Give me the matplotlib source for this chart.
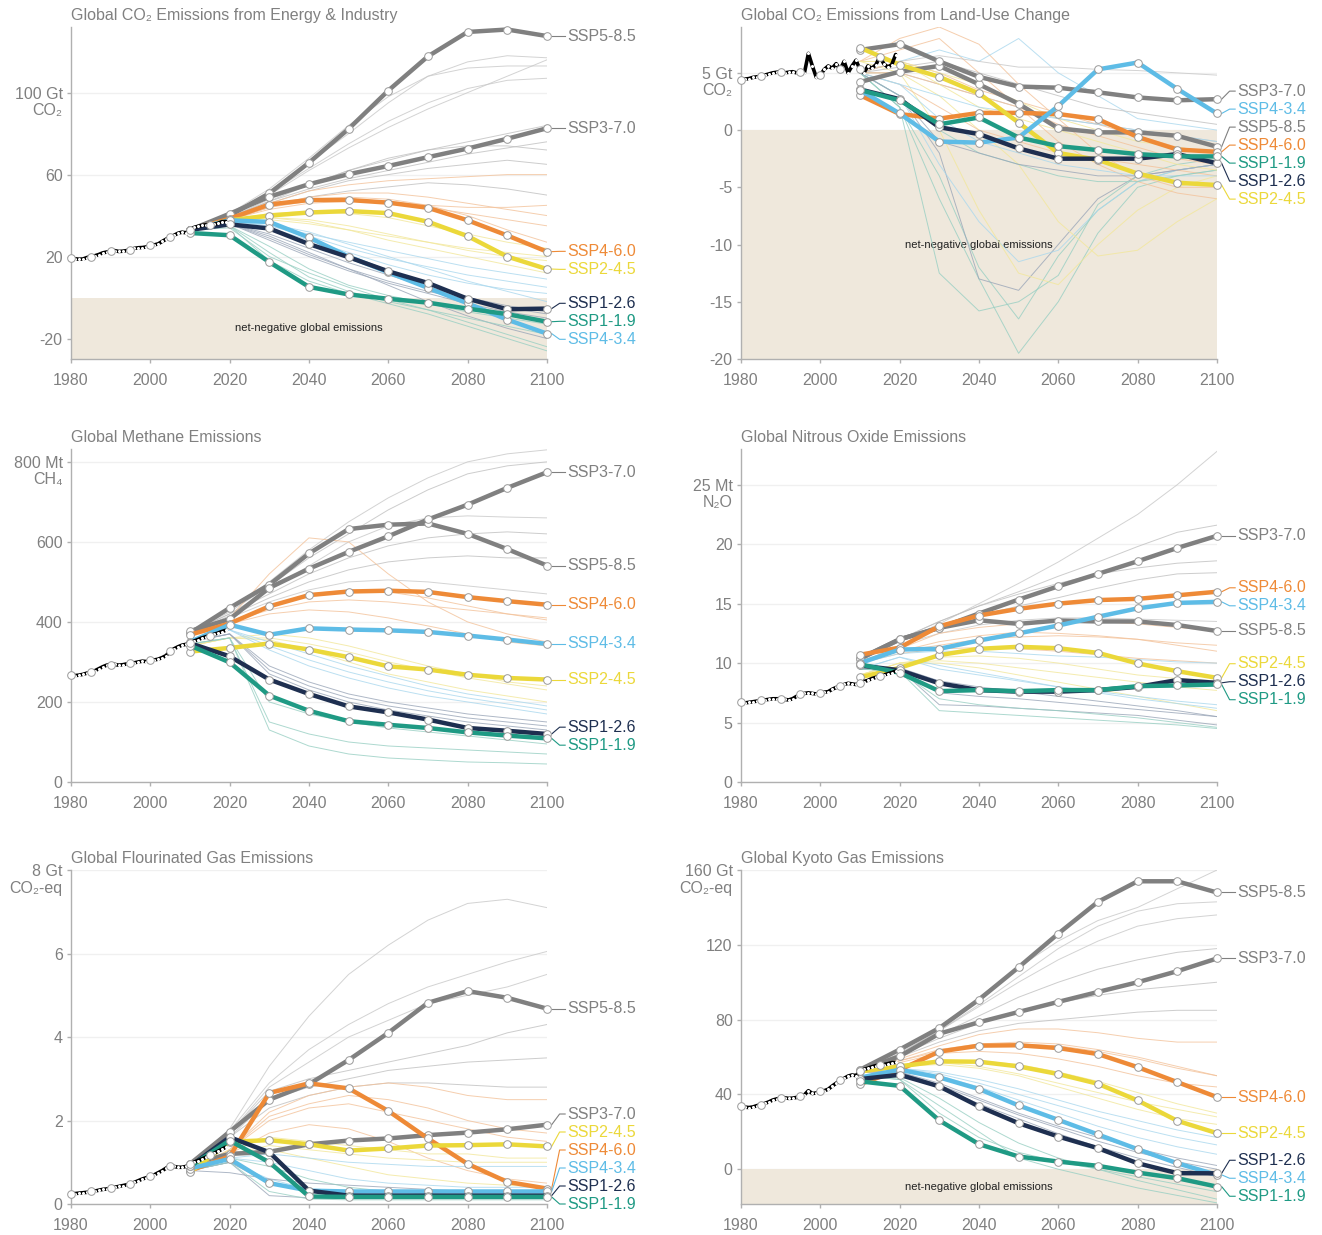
import numpy as np
import matplotlib
matplotlib.use("Agg")
import matplotlib.pyplot as plt

plt.rcParams['font.family'] = ['Liberation Sans', 'DejaVu Sans']

# ---- data -------------------------------------------------------------
SCEN_YEARS = [2010, 2020, 2030, 2040, 2050, 2060, 2070, 2080, 2090, 2100]
HIST_YEARS = list(range(1980, 2020))
SCENARIOS = ['SSP5-8.5', 'SSP3-7.0', 'SSP4-6.0', 'SSP2-4.5', 'SSP4-3.4', 'SSP1-2.6', 'SSP1-1.9']

# CO2 from energy & industry (Gt CO2)
co2_ffi_hist = [19.4, 18.9, 18.7, 18.8, 19.5, 20.0, 20.4, 21.0, 21.8, 22.2,
                22.6, 22.9, 22.5, 22.6, 22.9, 23.4, 24.0, 24.3, 24.4, 24.7,
                25.5, 25.7, 26.2, 27.4, 28.5, 29.5, 30.4, 31.4, 31.9, 31.6,
                33.2, 34.2, 34.7, 35.2, 35.5, 35.6, 35.7, 36.2, 37.0, 37.1]
co2_ffi = {
    'SSP5-8.5': [33, 40, 50.8, 65.8, 82.3, 101, 117.7, 129.6, 130.8, 127.6],
    'SSP3-7.0': [33, 40.9, 49.2, 55.3, 60.2, 64.2, 68.5, 72.7, 77.5, 82.6],
    'SSP4-6.0': [33, 38.5, 45.4, 47.6, 47.6, 46.3, 43.8, 37.7, 30.3, 22.4],
    'SSP2-4.5': [33, 37.7, 40.0, 41.5, 42.2, 41.2, 37.0, 30.0, 20.0, 13.9],
    'SSP4-3.4': [33, 37.7, 36.9, 29.3, 20.0, 12.3, 4.7, -2.8, -10.8, -17.6],
    'SSP1-2.6': [33, 35.7, 33.7, 26.1, 19.7, 12.8, 7.1, -0.6, -5.7, -5.4],
    'SSP1-1.9': [31.5, 30.4, 17.3, 5.2, 1.5, -0.6, -2.5, -5.4, -8.1, -11.8],
}
co2_ffi_thin = [
    ('SSP5-8.5', [33, 40, 52, 66, 80, 95, 108, 115, 118, 117]),
    ('SSP5-8.5', [33, 40, 51, 63, 75, 86, 95, 102, 106, 107]),
    ('SSP5-8.5', [33, 40, 50, 62, 73, 83, 92, 100, 108, 116]),
    ('SSP5-8.5', [33, 41, 53, 68, 84, 98, 108, 112, 113, 113]),
    ('SSP3-7.0', [33, 39, 48, 55, 62, 67, 72, 76, 80, 84]),
    ('SSP3-7.0', [33, 39, 47, 53, 58, 62, 66, 70, 73, 76]),
    ('SSP3-7.0', [33, 39, 46, 52, 57, 60, 63, 65, 67, 65]),
    ('SSP3-7.0', [33, 38, 44, 49, 52, 54, 56, 55, 53, 50]),
    ('SSP3-7.0', [33, 39, 47, 55, 62, 68, 72, 74, 74, 72]),
    ('SSP4-6.0', [33, 39, 46, 52, 55, 57, 58, 59, 60, 60]),
    ('SSP4-6.0', [33, 39, 45, 49, 51, 51, 49, 46, 43, 40]),
    ('SSP4-6.0', [33, 38, 43, 46, 47, 46, 44, 41, 38, 35]),
    ('SSP4-6.0', [33, 38, 44, 48, 49, 48, 45, 40, 33, 27]),
    ('SSP4-6.0', [33, 38, 44, 47, 48, 47, 45, 44, 44, 45]),
    ('SSP2-4.5', [33, 38, 41, 42, 41, 39, 35, 31, 27, 24]),
    ('SSP2-4.5', [33, 37, 39, 38, 35, 31, 27, 23, 20, 18]),
    ('SSP2-4.5', [33, 37, 39, 37, 33, 28, 24, 20, 16, 12]),
    ('SSP2-4.5', [33, 37, 38, 36, 33, 30, 27, 24, 22, 20]),
    ('SSP4-3.4', [33, 37, 35, 31, 27, 23, 19, 15, 12, 9]),
    ('SSP4-3.4', [33, 37, 34, 28, 22, 16, 11, 7, 4, 2]),
    ('SSP4-3.4', [33, 37, 36, 32, 26, 20, 14, 8, 3, -2]),
    ('SSP4-3.4', [33, 37, 35, 30, 24, 19, 15, 11, 8, 5]),
    ('SSP1-2.6', [33, 36, 31, 24, 17, 11, 5, 0, -4, -7]),
    ('SSP1-2.6', [33, 36, 28, 20, 13, 7, 2, -3, -7, -10]),
    ('SSP1-2.6', [33, 36, 30, 22, 14, 6, -2, -9, -15, -20]),
    ('SSP1-2.6', [33, 36, 29, 21, 14, 8, 3, -1, -5, -8]),
    ('SSP1-1.9', [33, 35, 22, 10, 3, -2, -6, -10, -14, -18]),
    ('SSP1-1.9', [33, 35, 18, 8, 2, -3, -8, -14, -20, -26]),
    ('SSP1-1.9', [33, 34, 20, 12, 5, -1, -6, -12, -18, -24]),
    ('SSP1-1.9', [33, 35, 25, 14, 6, 1, -3, -7, -10, -13]),
]

# CO2 from land-use change (Gt CO2)
co2_luc_hist = [4.4, 4.45, 4.5, 4.6, 4.65, 4.7, 4.8, 4.9, 5.0, 5.05,
                5.1, 5.0, 5.05, 5.1, 5.0, 5.05, 5.0, 6.7, 5.6, 4.6,
                4.8, 5.3, 5.6, 5.4, 5.8, 5.3, 6.0, 5.0, 5.6, 6.1,
                5.3, 5.0, 5.6, 5.4, 5.7, 6.4, 5.8, 5.5, 5.7, 6.6]
co2_luc = {
    'SSP5-8.5': [4.2, 5.1, 5.6, 4.0, 2.3, 0.15, -0.2, -0.2, -0.5, -1.45],
    'SSP3-7.0': [7.0, 7.5, 6.0, 4.65, 3.8, 3.7, 3.3, 2.85, 2.6, 2.7],
    'SSP4-6.0': [3.05, 1.4, 1.0, 1.5, 1.5, 1.4, 0.95, -0.6, -1.7, -1.9],
    'SSP2-4.5': [7.2, 5.7, 4.65, 3.2, 0.65, -2.0, -2.6, -3.8, -4.6, -4.8],
    'SSP4-3.4': [3.5, 1.45, -1.0, -1.1, -0.65, 2.1, 5.3, 5.9, 3.6, 1.45],
    'SSP1-2.6': [3.55, 2.7, 0.25, -0.35, -1.6, -2.5, -2.5, -2.5, -2.1, -2.9],
    'SSP1-1.9': [3.5, 2.6, 0.5, 1.1, -0.65, -1.4, -1.75, -2.1, -2.3, -2.3],
}
co2_luc_thin = [
    ('SSP1-1.9', [5, 2, -6, -13, -19.5, -15, -9, -5, -4, -3.5]),
    ('SSP1-1.9', [5, 2, -4, -12, -16.5, -11, -7, -4.5, -3.5, -3]),
    ('SSP1-2.6', [5, 3, -2, -13, -14, -10, -6, -4, -3.5, -3]),
    ('SSP4-3.4', [5, 3, -3, -8, -11.5, -10.5, -7, -4.5, -3.5, -3]),
    ('SSP1-1.9', [5, 2, -12.5, -15.8, -15, -12.7, -6.5, -4, -3, -2.5]),
    ('SSP2-4.5', [6, 5, 0, -7, -12.5, -13.5, -10, -7, -5, -4]),
    ('SSP4-6.0', [6, 7, 8, 5, 2, -1, -3, -4.5, -5.5, -6]),
    ('SSP4-6.0', [6, 8, 9, 7.5, 4, 1, -2, -4, -5, -5]),
    ('SSP4-3.4', [5, 6, 7, 6, 8, 5, 3, 1, 0.5, 0]),
    ('SSP5-8.5', [5, 6, 6.5, 6, 5.5, 5.5, 5.3, 5.2, 5.0, 4.8]),
    ('SSP3-7.0', [5, 5.5, 6, 5, 4, 3, 2, 1.5, 1, 0.5]),
    ('SSP2-4.5', [5, 5, 3, 0, -3, -8, -11, -10.5, -8, -6]),
    ('SSP4-6.0', [5, 4, 2, 0, -1, -2, -2.5, -3, -3.5, -4]),
    ('SSP4-3.4', [5, 4, 1, -1, -2, -3, -3.5, -4, -4, -4]),
    ('SSP1-1.9', [5, 3, 0, -2, -3, -4, -4.5, -4.5, -4, -3.5]),
    ('SSP3-7.0', [5, 5, 4, 3, 2, 1, 0.5, 0, -0.5, -1]),
    ('SSP4-6.0', [5, 6, 5, 3.5, 2.5, 1.5, 0.5, -0.5, -1.5, -2]),
    ('SSP2-4.5', [6, 6, 5, 4, 2.5, 1, 0, -1, -1.5, -2]),
    ('SSP4-6.0', [5, 5, 4, 3, 2, 0.5, -0.5, -1.5, -2.5, -3]),
    ('SSP2-4.5', [6, 6, 4, 2, 1, 0, -1, -2, -3, -3.5]),
    ('SSP4-3.4', [5, 4, 3, 2, 1.5, 1, 0.5, 0, -0.5, -1]),
    ('SSP1-2.6', [5, 3, -1, -2, -3, -3.5, -4, -4, -3.5, -3]),
]

# methane (Mt CH4)
ch4_hist = [268, 266, 267, 269, 272, 274, 278, 283, 288, 292,
            293, 294, 292, 293, 295, 297, 298, 300, 302, 301,
            304, 305, 307, 311, 316, 328, 333, 338, 342, 344,
            347, 352, 356, 360, 363, 366, 369, 372, 376, 379]
ch4 = {
    'SSP5-8.5': [372, 435, 493, 571, 632, 643, 646, 620, 582, 541],
    'SSP3-7.0': [377, 407, 485, 533, 575, 614, 656, 693, 735, 774],
    'SSP4-6.0': [368, 396, 439, 467, 476, 478, 475, 462, 452, 443],
    'SSP2-4.5': [326, 335, 346, 331, 312, 289, 281, 268, 260, 256],
    'SSP4-3.4': [350, 393, 368, 384, 381, 379, 375, 366, 356, 345],
    'SSP1-2.6': [347, 314, 256, 220, 189, 174, 156, 135, 128, 120],
    'SSP1-1.9': [341, 299, 216, 178, 152, 143, 135, 124, 116, 109],
}
ch4_thin = [
    ('SSP5-8.5', [375, 430, 500, 580, 650, 710, 760, 800, 820, 830]),
    ('SSP3-7.0', [375, 425, 490, 560, 620, 680, 730, 770, 790, 800]),
    ('SSP5-8.5', [375, 420, 480, 540, 600, 640, 660, 665, 662, 660]),
    ('SSP3-7.0', [375, 420, 470, 520, 560, 590, 610, 620, 625, 620]),
    ('SSP3-7.0', [375, 415, 460, 500, 530, 550, 560, 565, 560, 560]),
    ('SSP5-8.5', [375, 410, 450, 480, 500, 505, 500, 490, 480, 470]),
    ('SSP4-6.0', [370, 410, 520, 610, 600, 520, 450, 400, 370, 350]),
    ('SSP4-6.0', [370, 400, 440, 470, 480, 475, 460, 440, 420, 405]),
    ('SSP4-6.0', [370, 395, 420, 430, 425, 410, 390, 370, 350, 340]),
    ('SSP4-6.0', [370, 400, 430, 450, 455, 450, 440, 430, 420, 410]),
    ('SSP2-4.5', [340, 360, 370, 360, 340, 315, 290, 270, 250, 240]),
    ('SSP2-4.5', [340, 360, 355, 330, 300, 270, 250, 230, 215, 200]),
    ('SSP2-4.5', [340, 360, 360, 345, 325, 300, 280, 260, 245, 230]),
    ('SSP4-3.4', [350, 380, 350, 320, 290, 265, 240, 220, 205, 190]),
    ('SSP4-3.4', [350, 380, 330, 290, 260, 235, 215, 200, 185, 170]),
    ('SSP4-3.4', [350, 380, 340, 305, 275, 250, 228, 210, 195, 180]),
    ('SSP1-2.6', [350, 370, 290, 250, 220, 200, 185, 170, 160, 150]),
    ('SSP1-2.6', [350, 370, 270, 230, 200, 180, 165, 150, 140, 130]),
    ('SSP1-2.6', [350, 370, 280, 240, 210, 190, 175, 160, 150, 140]),
    ('SSP1-1.9', [345, 360, 200, 170, 150, 135, 125, 115, 105, 95]),
    ('SSP1-1.9', [345, 360, 150, 120, 100, 90, 85, 80, 75, 70]),
    ('SSP1-1.9', [345, 360, 130, 90, 70, 60, 55, 50, 48, 45]),
]

# nitrous oxide (Mt N2O)
n2o_hist = [6.7, 6.65, 6.7, 6.75, 6.8, 6.86, 6.9, 6.95, 7.0, 7.0,
            7.0, 6.95, 6.9, 7.0, 7.2, 7.36, 7.45, 7.5, 7.45, 7.4,
            7.5, 7.55, 7.6, 7.8, 7.95, 8.06, 8.2, 8.3, 8.25, 8.2,
            8.34, 8.45, 8.55, 8.7, 8.8, 8.9, 9.0, 9.1, 9.2, 9.32]
n2o = {
    'SSP5-8.5': [10.4, 12.0, 12.96, 13.6, 13.3, 13.58, 13.5, 13.5, 13.2, 12.7],
    'SSP3-7.0': [10.36, 12.0, 12.96, 14.17, 15.34, 16.46, 17.5, 18.56, 19.68, 20.7],
    'SSP4-6.0': [10.7, 11.3, 13.1, 14.0, 14.56, 15.0, 15.3, 15.4, 15.7, 16.0],
    'SSP2-4.5': [8.8, 9.6, 10.67, 11.2, 11.37, 11.25, 10.86, 9.97, 9.32, 8.76],
    'SSP4-3.4': [10.0, 11.14, 11.2, 11.9, 12.5, 13.16, 13.9, 14.6, 15.06, 15.15],
    'SSP1-2.6': [9.8, 9.4, 8.3, 7.73, 7.6, 7.6, 7.73, 8.0, 8.57, 8.34],
    'SSP1-1.9': [9.9, 9.18, 7.64, 7.73, 7.64, 7.73, 7.73, 8.06, 8.12, 8.2],
}
n2o_thin = [
    ('SSP5-8.5', [10.3, 11.8, 13.3, 15, 16.7, 18.5, 20.5, 22.5, 25, 27.8]),
    ('SSP3-7.0', [10.3, 12, 13.5, 14.8, 16, 17.3, 18.5, 19.8, 21, 21.6]),
    ('SSP3-7.0', [10.3, 12, 13.5, 14.8, 15.8, 16.7, 17.5, 18, 18.4, 18.6]),
    ('SSP3-7.0', [10.2, 11.8, 13, 14, 14.8, 15.5, 16.3, 17, 17.5, 17.6]),
    ('SSP5-8.5', [10, 11.5, 12.5, 13.2, 13.6, 13.8, 13.8, 13.7, 13.6, 13.5]),
    ('SSP4-6.0', [10.2, 11.2, 12.5, 13, 13.3, 13.5, 13.5, 13.3, 13, 12.7]),
    ('SSP4-6.0', [10.2, 11, 11.8, 12.3, 12.6, 12.5, 12.3, 12, 11.5, 11]),
    ('SSP4-6.0', [10, 10.8, 11.2, 11.3, 11.2, 11, 10.7, 10.4, 10.2, 10]),
    ('SSP4-6.0', [10, 11, 11.5, 12, 12.2, 12.3, 12.2, 12, 11.7, 11.5]),
    ('SSP2-4.5', [9, 10, 10.5, 10.6, 10.4, 10, 9.5, 9, 8.7, 8.5]),
    ('SSP2-4.5', [9, 10, 10, 9.6, 9, 8.4, 7.8, 7.2, 6.6, 6]),
    ('SSP2-4.5', [9, 10, 10.2, 10, 9.6, 9.2, 8.8, 8.4, 8, 7.7]),
    ('SSP4-3.4', [10, 10.8, 11, 11, 10.8, 10.6, 10.5, 10.3, 10.1, 10]),
    ('SSP4-3.4', [9.5, 10.5, 9.8, 9.2, 8.6, 8, 7.5, 7, 6.6, 6.2]),
    ('SSP4-3.4', [9.5, 10.5, 9.5, 9, 8.5, 8, 7.6, 7.2, 6.8, 6.5]),
    ('SSP1-2.6', [9.5, 9.6, 8.5, 8, 7.6, 7.2, 6.8, 6.4, 6, 5.5]),
    ('SSP1-2.6', [9.5, 9.5, 6.5, 6.4, 6.2, 6, 5.8, 5.6, 5.2, 4.8]),
    ('SSP1-2.6', [9.5, 9.4, 7.5, 7.2, 7, 6.7, 6.4, 6.1, 5.8, 5.5]),
    ('SSP1-1.9', [9.5, 9.3, 6, 5.8, 5.6, 5.4, 5.2, 5, 4.8, 4.5]),
    ('SSP1-1.9', [9.5, 9.3, 7, 6.5, 6.2, 6, 5.7, 5.4, 5, 4.6]),
]

# fluorinated gases (Gt CO2-eq)
fgas_hist = [0.24, 0.25, 0.26, 0.27, 0.28, 0.30, 0.31, 0.33, 0.35, 0.36,
             0.38, 0.40, 0.42, 0.44, 0.46, 0.49, 0.52, 0.56, 0.60, 0.63,
             0.66, 0.70, 0.75, 0.80, 0.86, 0.92, 0.90, 0.88, 0.88, 0.90,
             0.96, 1.00, 1.04, 1.08, 1.12, 1.17, 1.21, 1.26, 1.31, 1.36]
fgas = {
    'SSP5-8.5': [0.96, 1.73, 2.5, 2.87, 3.45, 4.1, 4.82, 5.1, 4.94, 4.68],
    'SSP3-7.0': [0.96, 1.2, 1.25, 1.43, 1.52, 1.57, 1.65, 1.71, 1.79, 1.9],
    'SSP4-6.0': [0.8, 1.14, 2.66, 2.89, 2.77, 2.23, 1.57, 0.96, 0.53, 0.37],
    'SSP2-4.5': [0.76, 1.49, 1.53, 1.43, 1.28, 1.33, 1.4, 1.41, 1.43, 1.38],
    'SSP4-3.4': [0.85, 1.08, 0.5, 0.32, 0.3, 0.3, 0.3, 0.3, 0.3, 0.3],
    'SSP1-2.6': [0.9, 1.6, 1.24, 0.32, 0.2, 0.2, 0.2, 0.2, 0.2, 0.2],
    'SSP1-1.9': [0.9, 1.52, 1.0, 0.18, 0.17, 0.17, 0.17, 0.17, 0.17, 0.17],
}
fgas_thin = [
    ('SSP5-8.5', [0.9, 1.8, 3.3, 4.5, 5.5, 6.2, 6.8, 7.2, 7.3, 7.1]),
    ('SSP5-8.5', [0.9, 1.75, 2.9, 3.7, 4.3, 4.8, 5.2, 5.5, 5.8, 6.05]),
    ('SSP5-8.5', [0.9, 1.7, 2.8, 3.4, 4.0, 4.4, 4.8, 5.0, 5.2, 5.5]),
    ('SSP3-7.0', [0.9, 1.7, 2.7, 3.0, 3.2, 3.4, 3.6, 3.8, 4.1, 4.3]),
    ('SSP3-7.0', [0.9, 1.6, 2.5, 2.8, 3.0, 3.2, 3.3, 3.4, 3.45, 3.5]),
    ('SSP3-7.0', [0.9, 1.6, 2.3, 2.6, 2.8, 2.9, 2.9, 2.85, 2.8, 2.8]),
    ('SSP4-6.0', [0.8, 1.3, 2.2, 2.6, 2.8, 2.9, 2.8, 2.6, 2.5, 2.5]),
    ('SSP4-6.0', [0.8, 1.3, 2.0, 2.3, 2.4, 2.2, 2.0, 1.8, 1.6, 1.5]),
    ('SSP4-6.0', [0.8, 1.2, 1.7, 1.9, 1.8, 1.5, 1.1, 0.8, 0.6, 0.5]),
    ('SSP4-6.0', [0.8, 1.3, 2.1, 2.4, 2.6, 2.5, 2.3, 2.0, 1.8, 1.7]),
    ('SSP2-4.5', [0.8, 1.3, 1.6, 1.5, 1.4, 1.3, 1.2, 1.2, 1.1, 1.1]),
    ('SSP2-4.5', [0.8, 1.2, 1.3, 1.1, 0.9, 0.7, 0.6, 0.5, 0.45, 0.4]),
    ('SSP2-4.5', [0.8, 1.2, 1.4, 1.3, 1.2, 1.1, 1.05, 1.0, 1.0, 1.0]),
    ('SSP4-3.4', [0.8, 1.1, 1.2, 1.1, 1.0, 0.95, 0.9, 0.9, 0.9, 0.9]),
    ('SSP4-3.4', [0.8, 1.0, 0.6, 0.35, 0.3, 0.3, 0.3, 0.3, 0.3, 0.3]),
    ('SSP4-3.4', [0.8, 1.1, 1.0, 0.8, 0.6, 0.5, 0.45, 0.4, 0.4, 0.4]),
    ('SSP1-2.6', [0.8, 1.0, 0.2, 0.15, 0.15, 0.15, 0.15, 0.15, 0.15, 0.15]),
    ('SSP1-2.6', [0.8, 0.75, 0.6, 0.5, 0.45, 0.4, 0.35, 0.3, 0.3, 0.3]),
    ('SSP1-2.6', [0.8, 1.0, 0.5, 0.3, 0.25, 0.2, 0.2, 0.2, 0.2, 0.2]),
    ('SSP1-1.9', [0.8, 1.0, 0.3, 0.12, 0.1, 0.1, 0.1, 0.1, 0.1, 0.1]),
    ('SSP1-1.9', [0.8, 1.1, 0.9, 0.6, 0.4, 0.3, 0.25, 0.2, 0.2, 0.2]),
]

# all Kyoto gases (Gt CO2-eq)
kyoto_hist = [33.6, 33.2, 33.0, 33.3, 34.0, 34.5, 35.2, 36.0, 37.0, 37.6,
              38.0, 38.2, 37.9, 38.0, 38.4, 39.0, 39.8, 42.0, 40.5, 40.8,
              41.6, 42.0, 42.8, 44.5, 46.0, 47.5, 48.6, 49.8, 50.4, 50.1,
              52.3, 53.4, 54.0, 54.8, 55.4, 55.9, 56.0, 56.4, 57.0, 57.1]
kyoto = {
    'SSP5-8.5': [53.2, 64, 75.5, 90.7, 108, 126, 143, 154, 154, 148],
    'SSP3-7.0': [53, 60.4, 72.5, 78.6, 84.1, 89.5, 94.8, 100, 105.9, 112.7],
    'SSP4-6.0': [45.5, 53.2, 62.9, 66.1, 66.3, 64.8, 61.6, 54.6, 46.6, 38.6],
    'SSP2-4.5': [52.3, 55, 57.7, 57.5, 55, 50.9, 45.7, 36.8, 25.9, 19.3],
    'SSP4-3.4': [49, 53.2, 49.1, 42.9, 34.1, 26.4, 18.6, 10.7, 3.2, -3.0],
    'SSP1-2.6': [48.2, 50.5, 44.3, 33.6, 24.6, 17.5, 11.25, 3.2, -2.1, -2.2],
    'SSP1-1.9': [47, 44.6, 26.1, 13.4, 6.8, 4.1, 1.8, -1.8, -4.8, -9.3],
}
kyoto_thin = [
    ('SSP5-8.5', [52, 63, 76, 92, 108, 122, 133, 140, 150, 160]),
    ('SSP5-8.5', [52, 62, 74, 88, 103, 118, 130, 138, 142, 143]),
    ('SSP5-8.5', [52, 62, 74, 87, 100, 112, 122, 130, 134, 136]),
    ('SSP3-7.0', [52, 61, 72, 82, 92, 100, 107, 112, 116, 118]),
    ('SSP3-7.0', [52, 61, 70, 78, 84, 89, 93, 96, 98, 100]),
    ('SSP3-7.0', [52, 60, 68, 74, 78, 80, 82, 84, 85, 85]),
    ('SSP4-6.0', [52, 59, 66, 72, 75, 75, 73, 70, 68, 68]),
    ('SSP4-6.0', [52, 58, 64, 67, 68, 67, 64, 60, 55, 50]),
    ('SSP4-6.0', [52, 57, 62, 63, 62, 59, 55, 50, 46, 44]),
    ('SSP4-6.0', [52, 58, 63, 66, 67, 66, 63, 59, 54, 50]),
    ('SSP2-4.5', [52, 56, 58, 58, 56, 52, 47, 41, 35, 30]),
    ('SSP2-4.5', [52, 55, 56, 54, 50, 44, 38, 32, 27, 24]),
    ('SSP2-4.5', [52, 55, 57, 55, 51, 46, 41, 36, 32, 28]),
    ('SSP4-3.4', [52, 54, 52, 48, 43, 37, 31, 26, 21, 17]),
    ('SSP4-3.4', [52, 54, 50, 44, 37, 30, 23, 17, 12, 8]),
    ('SSP4-3.4', [52, 54, 51, 46, 40, 34, 28, 22, 17, 13]),
    ('SSP1-2.6', [52, 52, 46, 38, 30, 23, 17, 11, 6, 2]),
    ('SSP1-2.6', [52, 52, 44, 35, 27, 19, 12, 6, 1, -4]),
    ('SSP1-2.6', [52, 52, 45, 37, 29, 22, 15, 9, 4, 0]),
    ('SSP1-1.9', [50, 48, 30, 17, 9, 4, 0, -4, -8, -12]),
    ('SSP1-1.9', [50, 48, 34, 20, 6, 0, -5, -10, -14, -18]),
    ('SSP1-1.9', [50, 49, 38, 25, 14, 6, 0, -6, -11, -16]),
]

# ---- style ------------------------------------------------------------
COLORS = {
    'SSP5-8.5': '#808080', 'SSP3-7.0': '#808080', 'SSP4-6.0': '#ee8a37',
    'SSP2-4.5': '#ebd83a', 'SSP4-3.4': '#5ebce6', 'SSP1-2.6': '#1e2f50',
    'SSP1-1.9': '#1f9a84',
}
THIN_COLORS = {
    'SSP5-8.5': '#c8c8c8', 'SSP3-7.0': '#c0c0c0', 'SSP4-6.0': '#f3c29a',
    'SSP2-4.5': '#f2e79a', 'SSP4-3.4': '#aad8ee', 'SSP1-2.6': '#9aa6b8',
    'SSP1-1.9': '#98cfc3',
}
GREY = '#808080'
SHADE = '#efe8dc'

panels = [
    dict(title='Global CO₂ Emissions from Energy & Industry', hist=co2_ffi_hist, scen=co2_ffi,
         thin=co2_ffi_thin, ylim=(-30, 132), ticks=[-20, 20, 60, 100], top='100 Gt', unit='CO₂',
         neg=(2040, -15)),
    dict(title='Global CO₂ Emissions from Land-Use Change', hist=co2_luc_hist, scen=co2_luc,
         thin=co2_luc_thin, ylim=(-20, 9), ticks=[-20, -15, -10, -5, 0, 5], top='5 Gt', unit='CO₂',
         neg=(2040, -10)),
    dict(title='Global Methane Emissions', hist=ch4_hist, scen=ch4, thin=ch4_thin,
         ylim=(0, 832), ticks=[0, 200, 400, 600, 800], top='800 Mt', unit='CH₄', neg=None),
    dict(title='Global Nitrous Oxide Emissions', hist=n2o_hist, scen=n2o, thin=n2o_thin,
         ylim=(0, 28), ticks=[0, 5, 10, 15, 20, 25], top='25 Mt', unit='N₂O', neg=None),
    dict(title='Global Flourinated Gas Emissions', hist=fgas_hist, scen=fgas, thin=fgas_thin,
         ylim=(0, 8), ticks=[0, 2, 4, 6, 8], top='8 Gt', unit='CO₂-eq', neg=None),
    dict(title='Global Kyoto Gas Emissions', hist=kyoto_hist, scen=kyoto, thin=kyoto_thin,
         ylim=(-18.6, 160), ticks=[0, 40, 80, 120, 160], top='160 Gt', unit='CO₂-eq',
         neg=(2040, -9.7)),
]

# axes rectangles in figure fractions (left, bottom, width, height)
positions = [
    (0.0537, 0.7093, 0.360, 0.2688), (0.5605, 0.7093, 0.360, 0.2688),
    (0.0537, 0.3668, 0.360, 0.2696), (0.5605, 0.3668, 0.360, 0.2696),
    (0.0537, 0.0251, 0.360, 0.2704), (0.5605, 0.0251, 0.360, 0.2704),
]


def spread_labels(ys, gap, lo):
    order = np.argsort(ys)
    pos = np.array(ys, float)[order]
    for _ in range(400):
        for i in range(1, len(pos)):
            d = pos[i] - pos[i - 1]
            if d < gap:
                s = (gap - d) / 2
                pos[i] += s
                pos[i - 1] -= s
        pos = np.maximum(pos, lo)
    out = np.empty_like(pos)
    out[order] = pos
    return out


fig = plt.figure(figsize=(13.22, 12.35), dpi=100)

for p, rect in zip(panels, positions):
    ax = fig.add_axes(rect)
    ax.set_xlim(1980, 2100)
    ax.set_ylim(*p['ylim'])
    ymin = p['ylim'][0]

    for sp in ['top', 'right']:
        ax.spines[sp].set_visible(False)
    for sp in ['left', 'bottom']:
        ax.spines[sp].set_color('#b0b0b0')
        ax.spines[sp].set_linewidth(1.0)

    ax.set_xticks(range(1980, 2101, 20))
    ax.set_yticks(p['ticks'])
    labels = [str(t) for t in p['ticks']]
    labels[-1] = p['top']
    ax.set_yticklabels(labels)
    ax.tick_params(colors='#b0b0b0', labelcolor=GREY, labelsize=11.5, length=3, width=1, pad=3)
    ax.tick_params(axis='x', pad=7)

    # faint grid
    for t in p['ticks']:
        ax.axhline(t, color='#f0f0f0', lw=1, zorder=0)

    # net-negative area
    if p['neg'] is not None:
        ax.axhspan(ymin, 0, color=SHADE, lw=0, zorder=0)
        ax.text(p['neg'][0], p['neg'][1], 'net-negative global emissions', fontsize=8,
                ha='center', va='center', color='#222222', zorder=1)

    # thin scenario bundle
    for key, vals in p['thin']:
        ax.plot(SCEN_YEARS, vals, color=THIN_COLORS[key], lw=0.7, alpha=0.8, zorder=2)

    # main scenarios
    for key in SCENARIOS:
        if key not in p['scen']:
            continue
        ax.plot(SCEN_YEARS, p['scen'][key], color=COLORS[key], lw=3.2, zorder=4,
                marker='o', ms=5.5, mfc='white', mec='#9a9a9a', mew=0.7,
                solid_capstyle='round', clip_on=False)

    # historical
    ax.plot(HIST_YEARS, p['hist'], color='black', lw=2.6, zorder=5, solid_capstyle='round')
    ax.plot(HIST_YEARS, p['hist'], ls='none', marker='o', ms=1.2, mfc='white', mec='white', zorder=6)
    ax.plot(HIST_YEARS[::5], p['hist'][::5], ls='none', marker='o', ms=5.5, mfc='white',
            mec='#9a9a9a', mew=0.7, zorder=6, clip_on=False)

    # title and unit
    ax.text(0, 1.012, p['title'], transform=ax.transAxes, ha='left', va='bottom',
            fontsize=11.5, color=GREY)
    ax.annotate(p['unit'], xy=(0, p['ticks'][-1]), xycoords=('axes fraction', 'data'),
                xytext=(-6.2, -13), textcoords='offset points', ha='right', va='center',
                fontsize=11.5, color=GREY)

    # right-hand labels with leader lines
    keys = [k for k in SCENARIOS if k in p['scen']]
    ends = [p['scen'][k][-1] for k in keys]
    ends_px = [ax.transData.transform((2100, v))[1] for v in ends]
    lo_px = ax.transData.transform((2100, ymin))[1]
    lab_px = spread_labels(ends_px, 18, lo_px)
    inv = ax.transData.inverted()
    for k, v, lp in zip(keys, ends, lab_px):
        ly = inv.transform((0, lp))[1]
        ax.plot([2101.2, 2103.2, 2104.6], [v, ly, ly], color=COLORS[k], lw=0.8,
                clip_on=False, zorder=3)
        ax.text(2105.2, ly, k, color=COLORS[k], fontsize=11.5, ha='left', va='center',
                clip_on=False)

fig.savefig('out.png', dpi=100)
